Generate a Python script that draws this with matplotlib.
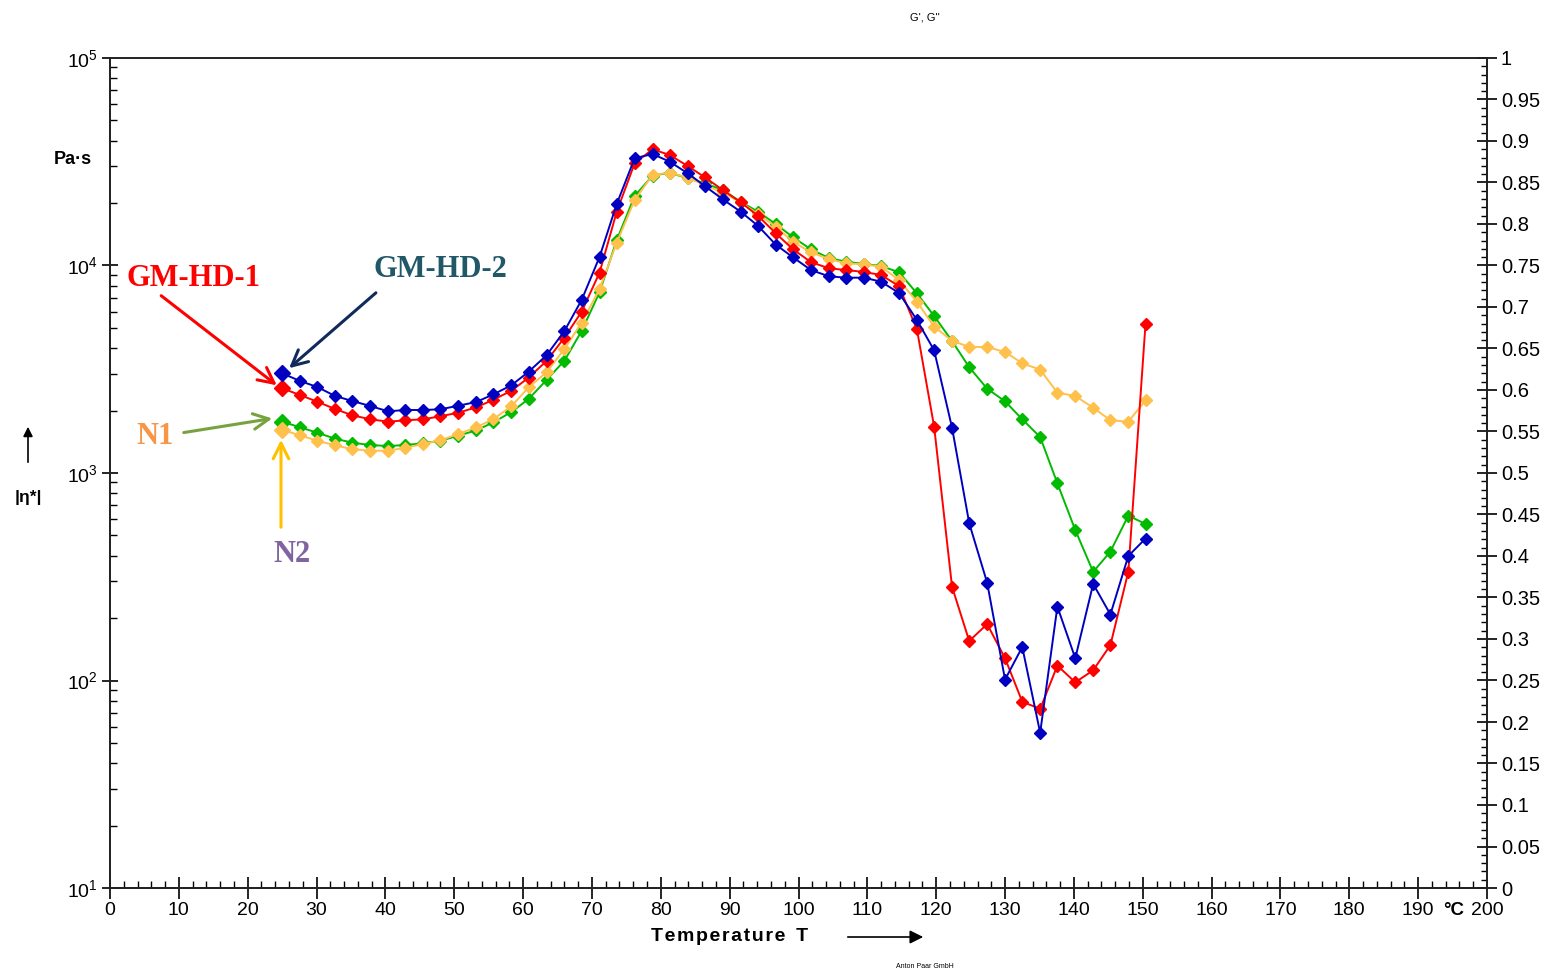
import matplotlib
matplotlib.use("Agg")
import matplotlib.pyplot as plt
from matplotlib.ticker import MultipleLocator, LogLocator, NullFormatter, FormatStrFormatter

# temperature steps (°C)
temperature = [25.0, 27.6, 30.1, 32.7, 35.2, 37.8, 40.4, 42.9, 45.5, 48.0,
               50.6, 53.2, 55.7, 58.3, 60.8, 63.4, 66.0, 68.5, 71.1, 73.6,
               76.2, 78.8, 81.3, 83.9, 86.4, 89.0, 91.6, 94.1, 96.7, 99.2,
               101.8, 104.4, 106.9, 109.5, 112.0, 114.6, 117.2, 119.7, 122.3, 124.8,
               127.4, 130.0, 132.5, 135.1, 137.6, 140.2, 142.8, 145.3, 147.9, 150.4]

# complex viscosity |eta*| in Pa·s
gm_hd_1 = [2560, 2376, 2206, 2034, 1897, 1815, 1767, 1795, 1815, 1877,
           1953, 2073, 2256, 2493, 2880, 3466, 4487, 5988, 9233, 18170,
           31080, 36310, 34080, 30170, 26610, 23110, 20160, 17380, 14290, 11970,
           10390, 9694, 9512, 9305, 9000, 7950, 4925, 1672, 283, 155,
           187, 128, 79, 73, 118, 98, 112, 148, 334, 5226]

gm_hd_2 = [3023, 2776, 2597, 2350, 2223, 2103, 1983, 2012, 2012, 2028,
           2110, 2199, 2395, 2647, 3077, 3691, 4834, 6818, 10990, 19790,
           32860, 34460, 31640, 27820, 24160, 20840, 18170, 15550, 12600, 10950,
           9512, 8872, 8736, 8736, 8356, 7370, 5462, 3902, 1654, 572,
           296, 101, 145, 56, 227, 128, 292, 208, 398, 483]

n1 = [1767, 1661, 1564, 1463, 1400, 1364, 1349, 1364, 1391, 1431,
      1513, 1606, 1755, 1968, 2273, 2807, 3477, 4834, 7426, 13270,
      21620, 27090, 28010, 26320, 24890, 23110, 20300, 18170, 15850, 13680,
      11970, 10870, 10430, 10170, 9945, 9272, 7345, 5710, 4326, 3232,
      2549, 2216, 1815, 1491, 892, 531, 334, 418, 623, 568]

n2 = [1612, 1520, 1431, 1360, 1301, 1281, 1281, 1324, 1380, 1438,
      1542, 1661, 1821, 2097, 2588, 3057, 3959, 5302, 7678, 12880,
      20690, 27300, 28010, 26500, 24430, 22430, 20160, 17710, 15380, 13020,
      11580, 10750, 10250, 10130, 9868, 8513, 6691, 5073, 4341, 4048,
      4048, 3830, 3379, 3147, 2438, 2350, 2064, 1795, 1767, 2240]

series = [(n1, "#00BB00"), (n2, "#FFC04C"), (gm_hd_1, "#FF0000"), (gm_hd_2, "#0000C0")]

W, H = 1551, 971
fig = plt.figure(figsize=(W / 100, H / 100), dpi=100)
ax = fig.add_axes([110 / W, 1 - 888 / H, (1487 - 110) / W, (888 - 58) / H])

def fx(px):
    return px / W

def fy(py):
    return 1 - py / H

for vals, col in series:
    ax.plot(temperature, vals, color=col, lw=1.4, marker="D", ms=5.8,
            mec=col, mfc=col, zorder=3)
    ax.plot(temperature[0], vals[0], marker="D", ms=8, color=col, zorder=4)

ax.set_xlim(0, 200)
ax.set_yscale("log")
ax.set_ylim(10, 1e5)
ax.xaxis.set_major_locator(MultipleLocator(10))
ax.xaxis.set_minor_locator(MultipleLocator(2))
ax.yaxis.set_major_locator(LogLocator(base=10, numticks=10))
ax.yaxis.set_minor_locator(LogLocator(base=10, subs=range(2, 10), numticks=20))
ax.yaxis.set_minor_formatter(NullFormatter())

tick_font = "Liberation Sans"
ax.tick_params(axis="x", which="major", direction="inout", length=16, width=1.2,
               labelsize=14, pad=2)
ax.tick_params(axis="x", which="minor", direction="in", length=5, width=1)
ax.tick_params(axis="y", which="major", direction="inout", length=12, width=1.2,
               labelsize=14, pad=3)
ax.tick_params(axis="y", which="minor", direction="in", length=5, width=1)
for lab in ax.get_xticklabels() + ax.get_yticklabels():
    lab.set_fontfamily(tick_font)

ax2 = ax.twinx()
ax2.set_ylim(0, 1)
ax2.yaxis.set_major_locator(MultipleLocator(0.05))
ax2.yaxis.set_minor_locator(MultipleLocator(0.01))
ax2.yaxis.set_major_formatter(FormatStrFormatter("%g"))
ax2.tick_params(axis="y", which="major", direction="inout", length=14, width=1.2,
                labelsize=14.5, pad=3)
ax2.tick_params(axis="y", which="minor", direction="in", length=4, width=1)
for lab in ax2.get_yticklabels():
    lab.set_fontfamily(tick_font)

for a in (ax, ax2):
    for side in a.spines.values():
        side.set_linewidth(1.3)
        side.set_color("#222222")
ax.spines["top"].set_color("#555555")

# axis labels
fig.text(fx(73), fy(160), "Pa·s", ha="center", va="center", fontsize=13,
         fontweight="bold", family=tick_font)
fig.text(fx(28), fy(497), "|η*|", ha="center", va="center", fontsize=12.5,
         fontweight="bold", family=tick_font)
fig.add_artist(matplotlib.patches.FancyArrowPatch((fx(28), fy(465)), (fx(28), fy(424)),
               transform=fig.transFigure, arrowstyle="-|>", mutation_scale=14,
               color="black", lw=1.2))
xlabel = "\u200a".join("Temperature") + "  T"
fig.text(fx(730), fy(936), xlabel, ha="center", va="center", fontsize=14,
         fontweight="bold", family=[tick_font, "DejaVu Sans"])
fig.add_artist(matplotlib.patches.FancyArrowPatch((fx(845), fy(937)), (fx(926), fy(937)),
               transform=fig.transFigure, arrowstyle="-|>", mutation_scale=20,
               color="black", lw=1.2))
fig.text(fx(1454), fy(910), "°C", ha="center", va="center", fontsize=13.5,
         fontweight="bold", family=tick_font)
fig.text(fx(925), fy(17), "G', G''", ha="center", va="center", fontsize=8,
         family=tick_font)
fig.text(fx(925), fy(966), "Anton Paar GmbH", ha="center", va="center", fontsize=5,
         family=tick_font)

# sample labels with arrows
serif = "Liberation Serif"
labels = [("GM-HD-1", 193, 278, "#FF0000"), ("GM-HD-2", 440, 269, "#215868"),
          ("N1", 155, 436, "#F79646"), ("N2", 292, 554, "#8064A2")]
for txt, px, py, col in labels:
    fig.text(fx(px), fy(py), txt, ha="center", va="center", fontsize=22,
             fontweight="bold", family=serif, color=col)

arrows = [((159, 294), (279, 387), "#FF0000"),
          ((378, 291), (287, 370), "#102A5C"),
          ((181, 433), (275, 418), "#77A33F"),
          ((281, 530), (281, 437), "#FFC000")]
for (x0, y0), (x1, y1), col in arrows:
    fig.add_artist(matplotlib.patches.FancyArrowPatch((fx(x0), fy(y0)), (fx(x1), fy(y1)),
                   transform=fig.transFigure, arrowstyle="->", mutation_scale=28,
                   color=col, lw=2.2))

fig.savefig("out.png", dpi=100)
